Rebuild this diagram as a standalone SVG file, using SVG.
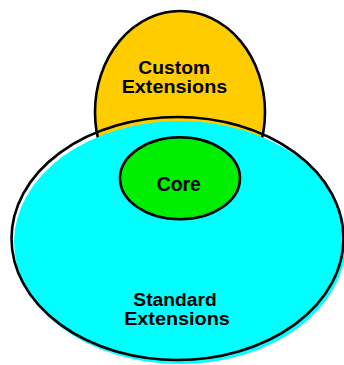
<svg xmlns="http://www.w3.org/2000/svg" width="344" height="365" viewBox="0 0 344 365">
<style>
.line{fill:none;stroke:#000;stroke-width:2.6}
.lbl{font-family:"Liberation Sans",Arial,sans-serif;font-weight:bold;font-size:17.5px;fill:#000;text-anchor:middle}
</style>
<rect width="344" height="365" fill="#fff"/>
<g id="custom">
<ellipse cx="180" cy="112" rx="85" ry="101" fill="#FFCC00" stroke="#000" stroke-width="2.6"/>
</g>
<g id="standard">
<ellipse cx="180" cy="242.5" rx="166" ry="121.5" fill="#00FFFF"/>
<ellipse class="line" cx="177.5" cy="238.5" rx="166" ry="121.5"/>
</g>
<g id="core">
<ellipse cx="180" cy="178.3" rx="60" ry="41" fill="#00EE00" stroke="#000" stroke-width="2.6"/>
</g>
<g id="labels">
<text class="lbl" x="174.2" y="73.8" textLength="71.7" lengthAdjust="spacingAndGlyphs">Custom</text>
<text class="lbl" x="174.5" y="93.4" textLength="105.7" lengthAdjust="spacingAndGlyphs">Extensions</text>
<text class="lbl" x="178.8" y="190.7" style="font-size:19.5px" textLength="44.3" lengthAdjust="spacingAndGlyphs">Core</text>
<text class="lbl" x="175" y="305.6" textLength="83.3" lengthAdjust="spacingAndGlyphs">Standard</text>
<text class="lbl" x="177" y="325.2" textLength="105.7" lengthAdjust="spacingAndGlyphs">Extensions</text>
</g>
<g id="connectors"></g>
</svg>
